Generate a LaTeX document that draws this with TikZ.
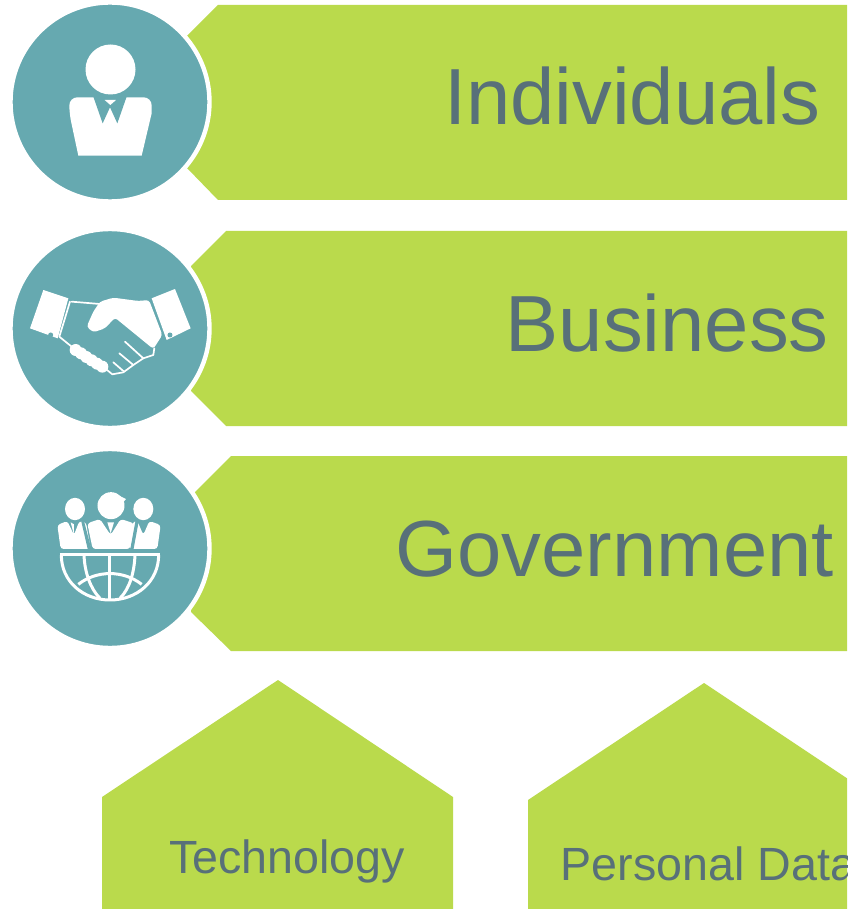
\documentclass[tikz,border=0pt]{standalone}
\usepackage{fontspec}
\setmainfont{Liberation Sans}
\definecolor{leaf}{HTML}{BADA4C}
\definecolor{teal0}{HTML}{66A9B0}
\definecolor{slate}{HTML}{587079}
\tikzset{
  shapefill/.style={fill=leaf,draw=none},
  disc/.style={circle,fill=teal0,draw=white,line width=4.4pt,minimum size=199pt,inner sep=0pt},
  bigtext/.style={anchor=base west,inner sep=0pt,text=slate,font=\fontsize{79.6}{82}\selectfont},
  smalltext/.style={anchor=base west,inner sep=0pt,text=slate,font=\fontsize{46.6}{48}\selectfont},
  ink/.style={fill=white,draw=none},
  inkline/.style={draw=white,line width=1.7pt,fill=none,line join=round,line cap=round},
  hole/.style={fill=teal0,draw=none},
  icon/.style={x=0.3333pt,y=-0.3333pt}
}
\begin{document}
\begin{tikzpicture}[x=1pt,y=-1pt]
\useasboundingbox (0,0) rectangle (847,909);
\clip (0,0) rectangle (847,909);
\fill[white] (0,0) rectangle (847,909);
% banners
\fill[shapefill] (218,5) -- (847,5) -- (847,200) -- (218,200) -- (187,168) -- (187,36) -- cycle;
\fill[shapefill] (226,231) -- (847,231) -- (847,426) -- (226,426) -- (191,391) -- (191,266) -- cycle;
\fill[shapefill] (231,456) -- (847,456) -- (847,651) -- (231,651) -- (191,612) -- (195,492) -- cycle;
% pentagons
\fill[shapefill] (278,680) -- (453,797) -- (453,909) -- (102,909) -- (102,797) -- cycle;
\fill[shapefill] (704,683) -- (860,787) -- (860,909) -- (528,909) -- (528,800) -- cycle;
% discs
\node[disc] (d1) at (110,102) {};
\node[disc] (d2) at (110,328.5) {};
\node[disc] (d3) at (110,548.5) {};
% labels
\node[bigtext] (t1) at (444,125) {Individuals};
\node[bigtext] (t2) at (505.5,351) {Business};
\node[bigtext] (t3) at (395.5,576) {Government};
\node[smalltext] (t4) at (169,873) {Technology};
\node[smalltext] (t5) at (560.5,880) {Personal Data};
% person icon
\fill[ink] (110.5,69.5) circle[radius=25];
\begin{scope}[shift={(60,90)},icon]
\fill[ink] (55,197) -- (245,197) -- (275,70) [rounded corners=8pt] -- (275,22) -- (28,22) -- (28,70) [sharp corners] -- cycle;
\fill[hole] (100,20) -- (128,100) -- (150,52) -- (172,100) -- (200,20) -- cycle;
\fill[ink] (134,30) -- (168,30) -- (151,45) -- cycle;
\end{scope}
% handshake icon
\begin{scope}[shift={(25,285)},icon]
\fill[ink] (55,15) -- (130,40) -- (98,160) -- (15,130) -- cycle;
\fill[hole] (77,150) circle[radius=2.5pt];
\fill[ink] (380,40) -- (450,12) -- (497,130) -- (425,165) -- cycle;
\fill[hole] (435,150) circle[radius=2.5pt];
\fill[ink,rounded corners=3pt] (225,50) -- (265,38) -- (340,48) -- (372,45) -- (412,150) -- (385,192) -- (270,98) -- (240,130) -- (205,142) -- (185,125) -- (205,80) -- cycle;
\draw[inkline] (140,50) -- (225,57);
\draw[inkline] (135,50) -- (103,155) -- (140,185);
\foreach \p in {(152,195),(168,205),(184,216),(200,226),(216,236),(232,245)}
  \fill[ink] \p circle[radius=6pt];
\draw[inkline] (240,250) -- (262,268) -- (295,262) -- (325,240) -- (283,205);
\draw[inkline] (265,232) -- (295,258);
\draw[inkline] (325,240) -- (355,220) -- (300,170);
\draw[inkline] (355,220) -- (385,210) -- (388,190);
\end{scope}
% government icon
\begin{scope}[shift={(50,485)},icon]
\fill[ink] (75,72) ellipse[x radius=10pt,y radius=11.2pt];
\fill[ink] (280,72) ellipse[x radius=10pt,y radius=11.2pt];
\fill[ink] (183,62) ellipse[x radius=13.5pt,y radius=13.5pt];
\fill[ink] (190,24) -- (228,42) -- (208,66) -- cycle;
\fill[ink,rounded corners=3pt] (22,120) -- (52,108) -- (72,150) -- (88,108) -- (108,112) -- (122,192) -- (32,192) -- cycle;
\fill[ink,rounded corners=3pt] (247,112) -- (262,108) -- (280,150) -- (298,108) -- (332,120) -- (322,192) -- (238,192) -- cycle;
\fill[teal0] (100,100) -- (125,196) -- (114,196) -- (94,110) -- cycle;
\fill[teal0] (258,100) -- (240,196) -- (250,196) -- (266,110) -- cycle;
\fill[ink,rounded corners=3pt] (112,115) -- (150,102) -- (182,150) -- (212,102) -- (252,115) -- (240,192) -- (128,192) -- cycle;
\fill[ink] (62,112) -- (72,118) -- (72,150) -- cycle;
\fill[ink] (172,112) -- (192,112) -- (182,145) -- cycle;
\begin{scope}[line width=3pt,draw=white,fill=none]
\draw (30,210) -- (330,210);
\draw (34,210) .. controls (34,290) and (100,345) .. (180,345) .. controls (260,345) and (326,290) .. (326,210);
\draw (180,210) -- (180,345);
\draw (102,210) .. controls (104,260) and (120,310) .. (150,340);
\draw (255,210) .. controls (253,260) and (240,310) .. (210,340);
\draw (85,298) .. controls (140,255) and (220,255) .. (275,298);
\end{scope}
\end{scope}
\end{tikzpicture}
\end{document}
